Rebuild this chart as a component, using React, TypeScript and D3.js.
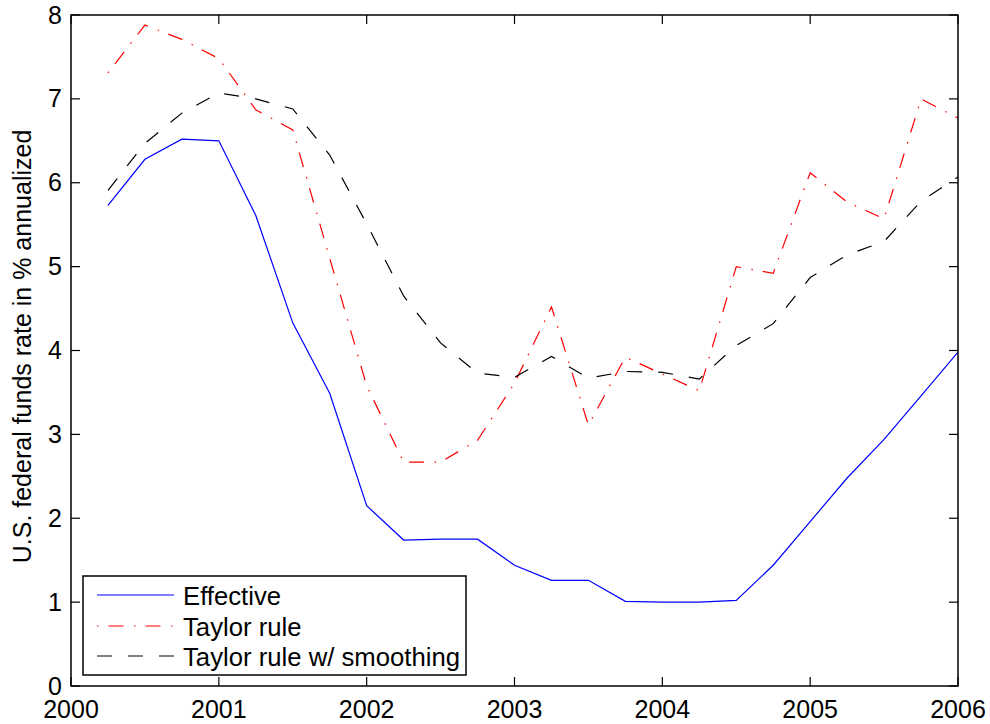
import React from "react";
import * as d3 from "d3";

// Quarterly observations (decimal year of quarter end)
const quarters = [
  2000.25, 2000.5, 2000.75, 2001.0, 2001.25, 2001.5, 2001.75, 2002.0,
  2002.25, 2002.5, 2002.75, 2003.0, 2003.25, 2003.5, 2003.75, 2004.0,
  2004.25, 2004.5, 2004.75, 2005.0, 2005.25, 2005.5, 2005.75, 2006.0,
];

const effective = [
  5.73, 6.28, 6.52, 6.5, 5.61, 4.33, 3.49, 2.15,
  1.74, 1.75, 1.75, 1.44, 1.26, 1.26, 1.01, 1.0,
  1.0, 1.02, 1.44, 1.96, 2.48, 2.94, 3.46, 3.98,
];

const taylorRule = [
  7.31, 7.88, 7.71, 7.48, 6.87, 6.63, 5.1, 3.58,
  2.67, 2.67, 2.93, 3.61, 4.52, 3.11, 3.92, 3.72,
  3.52, 5.0, 4.92, 6.12, 5.77, 5.57, 7.0, 6.77,
];

const taylorSmoothed = [
  5.91, 6.47, 6.83, 7.07, 7.0, 6.88, 6.33, 5.51,
  4.65, 4.09, 3.73, 3.68, 3.93, 3.67, 3.75, 3.74,
  3.66, 4.06, 4.32, 4.87, 5.14, 5.3, 5.78, 6.07,
];

const xTicks = [2000, 2001, 2002, 2003, 2004, 2005, 2006];
const yTicks = [0, 1, 2, 3, 4, 5, 6, 7, 8];

const seriesNames = ["Effective", "Taylor rule", "Taylor rule w/ smoothing"];
const seriesColors = ["#0000ff", "#ff0000", "#000000"];
const seriesDashes = ["none", "1.5 10 15 10.5", "15 16"];
const seriesValues = [effective, taylorRule, taylorSmoothed];

const W = 990;
const H = 724;
const left = 71;
const right = 958;
const top = 15;
const bottom = 686;
const font = "'Liberation Sans', Arial, Helvetica, sans-serif";
const fs = 25;
const legendFs = 25.7;

export default function App() {
  const x = d3.scaleLinear().domain([2000, 2006]).range([left, right]);
  const y = d3.scaleLinear().domain([0, 8]).range([bottom, top]);

  const line = d3
    .line<[number, number]>()
    .x((d) => x(d[0]))
    .y((d) => y(d[1]));

  const tickLen = 9;

  // legend geometry
  const lg = { x0: 83, y0: 576, x1: 466, y1: 675 };
  const rowY = [595, 626, 656];

  return (
    <svg
      width={W}
      height={H}
      viewBox={`0 0 ${W} ${H}`}
      style={{ position: "absolute", left: 0, top: 0, background: "#fff" }}
      fontFamily={font}
    >
      <rect x={0} y={0} width={W} height={H} fill="#fff" />
      <defs>
        <clipPath id="plot-clip">
          <rect x={left} y={top} width={right - left} height={bottom - top} />
        </clipPath>
      </defs>

      <g clipPath="url(#plot-clip)">
        {seriesValues.map((vals, i) => (
          <path
            key={seriesNames[i]}
            d={line(quarters.map((q, j) => [q, vals[j]] as [number, number])) || ""}
            fill="none"
            stroke={seriesColors[i]}
            strokeWidth={1.2}
            strokeDasharray={seriesDashes[i]}
          />
        ))}
      </g>

      {/* axes box with inward ticks on all sides */}
      <rect
        x={left}
        y={top}
        width={right - left}
        height={bottom - top}
        fill="none"
        stroke="#000"
        strokeWidth={1.5}
      />
      {xTicks.map((t) => (
        <g key={"x" + t}>
          <line x1={x(t)} x2={x(t)} y1={bottom} y2={bottom - tickLen} stroke="#000" strokeWidth={1.2} />
          <line x1={x(t)} x2={x(t)} y1={top} y2={top + tickLen} stroke="#000" strokeWidth={1.2} />
          <text x={x(t)} y={718} fontSize={fs} textAnchor="middle" fill="#000">
            {t}
          </text>
        </g>
      ))}
      {yTicks.map((t) => (
        <g key={"y" + t}>
          <line x1={left} x2={left + tickLen} y1={y(t)} y2={y(t)} stroke="#000" strokeWidth={1.2} />
          <line x1={right} x2={right - tickLen} y1={y(t)} y2={y(t)} stroke="#000" strokeWidth={1.2} />
          <text x={62} y={y(t) + 8.5} fontSize={fs} textAnchor="end" fill="#000">
            {t}
          </text>
        </g>
      ))}

      <text
        transform={`translate(31, ${(top + bottom) / 2 - 4}) rotate(-90)`}
        fontSize={fs}
        textAnchor="middle"
        fill="#000"
      >
        U.S. federal funds rate in % annualized
      </text>

      {/* legend */}
      <rect
        x={lg.x0}
        y={lg.y0}
        width={lg.x1 - lg.x0}
        height={lg.y1 - lg.y0}
        fill="#fff"
        stroke="#000"
        strokeWidth={1.5}
      />
      {seriesNames.map((name, i) => (
        <g key={"lg" + name}>
          <line
            x1={97}
            x2={174}
            y1={rowY[i]}
            y2={rowY[i]}
            stroke={seriesColors[i]}
            strokeWidth={1.2}
            strokeDasharray={seriesDashes[i]}
          />
          <text x={183} y={rowY[i] + 9.5} fontSize={legendFs} fill="#000">
            {name}
          </text>
        </g>
      ))}
    </svg>
  );
}
